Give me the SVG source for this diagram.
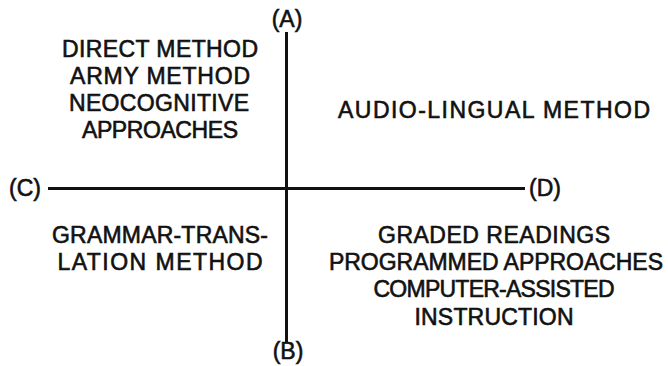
<svg xmlns="http://www.w3.org/2000/svg" width="668" height="366" viewBox="0 0 668 366">
<style>
text{font-family:"Liberation Sans",Arial,sans-serif;font-size:23px;fill:#111;stroke:#111;stroke-width:0.6;}
.m{text-anchor:middle;}
.ax{stroke:#111;stroke-width:3;fill:none;}
</style>
<rect width="668" height="366" fill="#fff"/>
<g id="connectors">
<line class="ax" x1="286.5" y1="32" x2="286.5" y2="342"/>
<line class="ax" x1="48" y1="188.5" x2="525" y2="188.5"/>
</g>
<g id="A"><text class="m" x="287" y="27">(A)</text></g>
<g id="B"><text class="m" x="288" y="359">(B)</text></g>
<g id="C"><text x="9" y="196">(C)</text></g>
<g id="D"><text x="529" y="196">(D)</text></g>
<g id="quadA">
<text class="m" x="160" y="57" textLength="196" lengthAdjust="spacing">DIRECT METHOD</text>
<text class="m" x="160" y="84" textLength="180" lengthAdjust="spacing">ARMY METHOD</text>
<text class="m" x="159" y="111" textLength="180" lengthAdjust="spacing">NEOCOGNITIVE</text>
<text class="m" x="160" y="138" textLength="156" lengthAdjust="spacing">APPROACHES</text>
</g>
<g id="quadAD">
<text class="m" x="494" y="118" textLength="312" lengthAdjust="spacing">AUDIO-LINGUAL METHOD</text>
</g>
<g id="quadCB">
<text class="m" x="160" y="243" textLength="216" lengthAdjust="spacing">GRAMMAR-TRANS-</text>
<text class="m" x="160" y="270" textLength="205" lengthAdjust="spacing">LATION METHOD</text>
</g>
<g id="quadBD">
<text class="m" x="494" y="243" textLength="232" lengthAdjust="spacing">GRADED READINGS</text>
<text class="m" x="496" y="270" textLength="334" lengthAdjust="spacing">PROGRAMMED APPROACHES</text>
<text class="m" x="494" y="297" textLength="241" lengthAdjust="spacing">COMPUTER-ASSISTED</text>
<text class="m" x="494" y="325" textLength="159" lengthAdjust="spacing">INSTRUCTION</text>
</g>
</svg>
